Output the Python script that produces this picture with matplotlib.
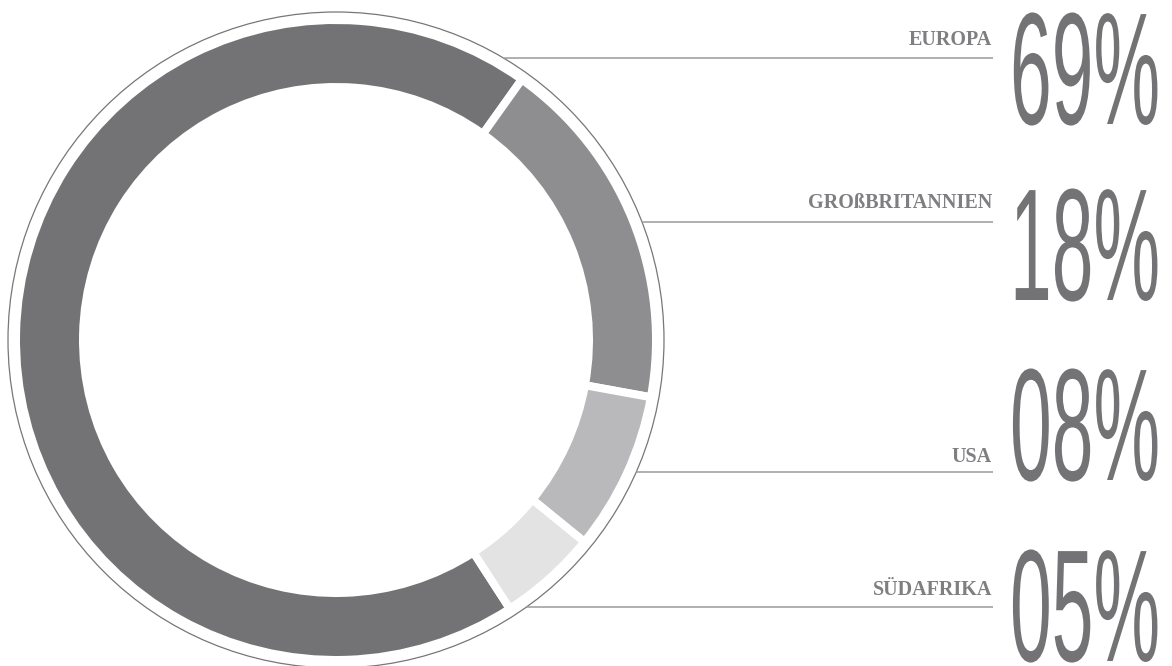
import numpy as np
import matplotlib
matplotlib.use("Agg")
import matplotlib.pyplot as plt
from matplotlib.patches import Circle
from matplotlib.patheffects import AbstractPathEffect
from matplotlib.transforms import Affine2D

# share of each region, in percent
regions = ["EUROPA", "GROßBRITANNIEN", "USA", "SÜDAFRIKA"]
shares = [69, 18, 8, 5]
shares_text = ["69%", "18%", "08%", "05%"]
ring_colors = ["#737375", "#8e8e90", "#b9b9bb", "#e3e3e3"]

W, H = 1172, 666
cx, cy = 336, 340          # ring centre (pixels from top-left)
r_frame = 328              # thin outer circle
r_out, r_in = 316, 257     # coloured ring
gap = 8                    # white gap between segments

label_y = [45, 208, 462, 595]
line_y = [58, 222, 472, 607]
number_y = [124, 300, 480, 661]


class Tall(AbstractPathEffect):
    """Stretch glyphs vertically about the baseline (tall condensed look)."""

    def __init__(self, sy):
        super().__init__()
        self.sy = sy

    def draw_path(self, renderer, gc, tpath, affine, rgbFace=None):
        m = affine.get_matrix().copy()
        m[1, 0] *= self.sy
        m[1, 1] *= self.sy
        renderer.draw_path(gc, tpath, Affine2D(m), rgbFace)


fig = plt.figure(figsize=(W / 100, H / 100), dpi=100)
ax = fig.add_axes([0, 0, 1, 1])

gap_pt = gap * 72 / 100
ax.pie(shares, colors=ring_colors, startangle=-57.1, counterclock=False,
       radius=r_out + gap / 2, center=(cx, H - cy),
       wedgeprops=dict(width=r_out - r_in + gap, edgecolor="white",
                       linewidth=gap_pt))

ax.add_patch(Circle((cx, H - cy), r_frame, fill=False, edgecolor="#77777a",
                    linewidth=0.9))

for name, txt, ly, yy, ny in zip(regions, shares_text, label_y, line_y, number_y):
    x0 = cx + np.sqrt(r_frame ** 2 - (cy - yy) ** 2)
    ax.plot([x0, 993], [H - yy, H - yy], color="#9a9a9c", lw=1.1,
            solid_capstyle="butt")
    ax.text(992, H - ly, name, ha="right", va="baseline",
            family="Liberation Serif", fontweight="bold", fontsize=14.5,
            color="#7f7f82")
    ax.text(1010, H - ny, txt, ha="left", va="baseline",
            family="Liberation Sans", fontsize=54, color="#737375",
            path_effects=[Tall(2.13)])

ax.set_xlim(0, W)
ax.set_ylim(0, H)
ax.set_aspect("equal")
ax.axis("off")

fig.savefig("out.png", dpi=100)
